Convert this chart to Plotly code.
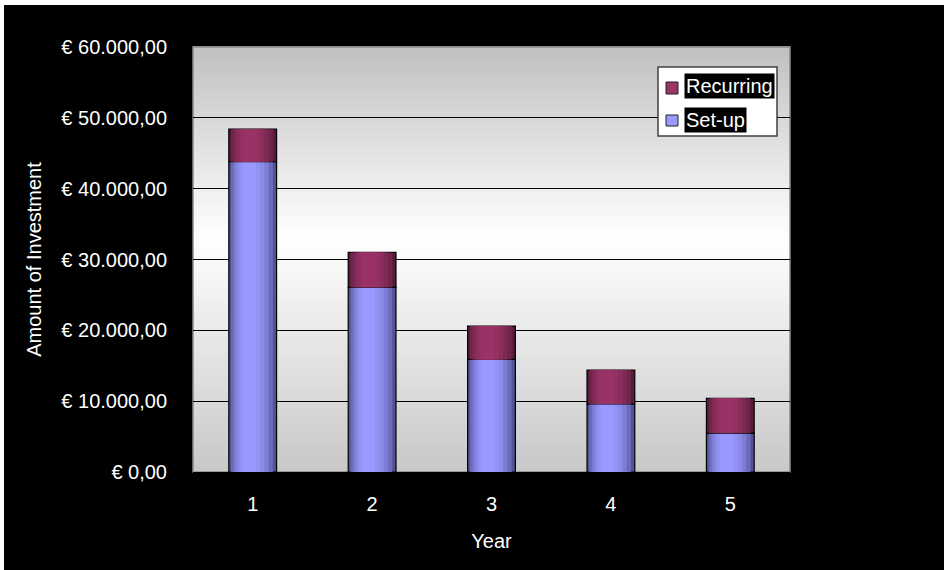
import plotly.graph_objects as go

# ---- data ----
years = [1, 2, 3, 4, 5]
setup = [43800, 26100, 15900, 9600, 5500]
recurring = [4600, 4900, 4700, 4800, 4900]
series_names = ["Set-up", "Recurring"]
ytick_vals = [0, 10000, 20000, 30000, 40000, 50000, 60000]
ytick_text = ["€ 0,00", "€ 10.000,00", "€ 20.000,00", "€ 30.000,00",
              "€ 40.000,00", "€ 50.000,00", "€ 60.000,00"]

# ---- styles ----
FONT = "Liberation Sans, Arial, sans-serif"
SETUP_CENTER = (153, 153, 255)
SETUP_EDGE = (82, 82, 150)
REC_CENTER = (153, 51, 102)
REC_EDGE = (88, 28, 58)
W = 944; H = 570
ML, MR, MT, MB = 193, 154, 47, 98
PW = W - ML - MR
PH = H - MT - MB


def px_x(p):
    return (p - ML) / PW


def px_y(p):
    return (H - MB - p) / PH


def mix(c1, c2, t):
    return "rgb(%d,%d,%d)" % tuple(round(a + (b - a) * t) for a, b in zip(c1, c2))


layers = [(0.40, 0.0, 0.0), (0.35, -0.006, 0.35), (0.29, -0.012, 0.6),
          (0.23, -0.018, 0.8), (0.17, -0.024, 0.92), (0.11, -0.03, 1.0)]

setup_top = [s for s in setup]

fig = go.Figure()
for i, (w, c, t) in enumerate(layers):
    outline = dict(color="black", width=1.2) if i == 0 else dict(width=0)
    fig.add_trace(go.Bar(
        x=years, y=setup, base=[0] * len(years), width=w, offset=c - w / 2,
        marker=dict(color=mix(SETUP_EDGE, SETUP_CENTER, t), line=outline),
        name=series_names[0], showlegend=False, hoverinfo="skip" if i else None))
for i, (w, c, t) in enumerate(layers):
    outline = dict(color="black", width=1.2) if i == 0 else dict(width=0)
    fig.add_trace(go.Bar(
        x=years, y=recurring, base=setup_top, width=w, offset=c - w / 2,
        marker=dict(color=mix(REC_EDGE, REC_CENTER, t), line=outline),
        name=series_names[1], showlegend=False, hoverinfo="skip" if i else None))

shapes = []
# plot-area gradient (gray top/bottom, white near centre)
N = 85
center = 0.55
for k in range(N):
    y0 = k / N
    y1 = (k + 1) / N
    ym = (y0 + y1) / 2
    if ym >= center:
        tt = (ym - center) / (1 - center)
        v = 255 + (192 - 255) * tt
    else:
        tt = (center - ym) / center
        v = 255 + (200 - 255) * tt
    v = round(v)
    shapes.append(dict(type="rect", xref="paper", yref="paper", x0=0, x1=1,
                       y0=y0, y1=y1 + 0.002, fillcolor="rgb(%d,%d,%d)" % (v, v, v),
                       line=dict(width=0), layer="below"))
# plot-area border
shapes.append(dict(type="rect", xref="paper", yref="paper", x0=0, x1=1, y0=0, y1=1,
                   line=dict(color="#8a8a8a", width=1.5), layer="below"))
# white frame strips at page left/top
shapes.append(dict(type="rect", xref="paper", yref="paper", x0=px_x(0), x1=px_x(4),
                   y0=px_y(H), y1=px_y(0), fillcolor="white", line=dict(width=0)))
shapes.append(dict(type="rect", xref="paper", yref="paper", x0=px_x(0), x1=px_x(W),
                   y0=px_y(5), y1=px_y(0), fillcolor="white", line=dict(width=0)))
# legend box
shapes.append(dict(type="rect", xref="paper", yref="paper", x0=px_x(658), x1=px_x(777),
                   y0=px_y(136), y1=px_y(67), fillcolor="white",
                   line=dict(color="#404040", width=1.5), layer="above"))
shapes.append(dict(type="rect", xref="paper", yref="paper", x0=px_x(666), x1=px_x(678),
                   y0=px_y(94), y1=px_y(82), fillcolor=mix(REC_EDGE, REC_CENTER, 1),
                   line=dict(color="#222", width=1), layer="above"))
shapes.append(dict(type="rect", xref="paper", yref="paper", x0=px_x(666), x1=px_x(678),
                   y0=px_y(126), y1=px_y(115), fillcolor=mix(SETUP_EDGE, SETUP_CENTER, 1),
                   line=dict(color="#222", width=1), layer="above"))

annotations = [
    dict(text=series_names[1], xref="paper", yref="paper", x=px_x(684), y=px_y(86),
         xanchor="left", yanchor="middle", showarrow=False, bgcolor="black",
         borderpad=1, font=dict(family=FONT, size=20, color="white")),
    dict(text=series_names[0], xref="paper", yref="paper", x=px_x(684), y=px_y(120),
         xanchor="left", yanchor="middle", showarrow=False, bgcolor="black",
         borderpad=1, font=dict(family=FONT, size=20, color="white")),
]

fig.update_layout(
    width=W, height=H, autosize=False,
    margin=dict(l=ML, r=MR, t=MT, b=MB, pad=0),
    paper_bgcolor="black", plot_bgcolor="rgba(0,0,0,0)",
    barmode="overlay", showlegend=False,
    font=dict(family=FONT, size=20, color="white"),
    shapes=shapes, annotations=annotations,
    xaxis=dict(range=[0.5, 5.5], tickvals=years, ticktext=[str(y) for y in years],
               showgrid=False, zeroline=False, showline=True, linecolor="black",
               linewidth=1.5, ticks="", ticklabelstandoff=13, automargin=False,
               title=dict(text="Year", standoff=20, font=dict(size=20, color="white")),
               tickfont=dict(size=20, color="white")),
    yaxis=dict(range=[0, 60000], tickvals=ytick_vals, ticktext=ytick_text,
               showgrid=True, gridcolor="black", gridwidth=1, zeroline=False,
               showline=False, ticks="", ticklabelstandoff=25, automargin=False,
               title=dict(text="Amount of Investment", standoff=14,
                          font=dict(size=20, color="white")),
               tickfont=dict(size=20, color="white")),
)

fig.write_html("out.html")
